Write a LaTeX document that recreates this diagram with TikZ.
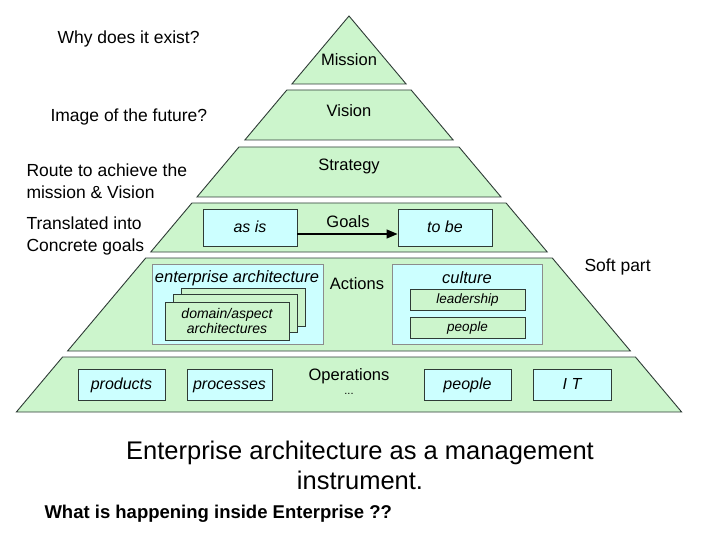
\documentclass[tikz,border=0pt]{standalone}
\usepackage{fontspec}
\setmainfont{Liberation Sans}
\usetikzlibrary{arrows.meta, positioning}
\definecolor{LayerGreen}{HTML}{CCF5CC}
\definecolor{BoxCyan}{HTML}{CCFFFF}
\definecolor{EdgeDark}{HTML}{2E3B36}

\begin{document}
\begin{tikzpicture}[
        x=1pt, y=-1pt, >={Triangle[length=11pt, width=9pt]},
        layer/.style={fill=LayerGreen, draw=EdgeDark, line width=0.9pt},
        lbl/.style={font=\fontsize{16.5}{19}\selectfont},
        note/.style={align=left, anchor=west, font=\fontsize{17.5}{22}\selectfont},
        box/.style={draw=EdgeDark, fill=BoxCyan, line width=0.9pt, inner sep=0pt,
                    text height=12.5pt, text depth=2.5pt,
                    font=\fontsize{16}{19}\selectfont\itshape},
        panel/.style={draw=black!45, fill=BoxCyan, line width=0.8pt, inner sep=0pt},
        sheet/.style={draw=EdgeDark, fill=LayerGreen, line width=0.9pt, inner sep=0pt,
                      minimum width=124, minimum height=38},
        small/.style={draw=EdgeDark, fill=LayerGreen, line width=0.8pt, inner sep=0pt,
                      minimum width=115, minimum height=21, text height=10.5pt, text depth=2pt,
                      font=\fontsize{13.5}{15}\selectfont\itshape},
      ]
        \useasboundingbox (0,0) rectangle (720,540);
        % pyramid: apex (349,16), half width grows 0.84 per unit down
        \def\cx{349}\def\sl{0.84}
        \fill[LayerGreen] (\cx,16) -- ({\cx+\sl*68},84) -- ({\cx-\sl*68},84) -- cycle;
        \draw[EdgeDark, line width=0.9pt] (\cx,16) -- ({\cx+\sl*68},84) -- ({\cx-\sl*68},84) -- cycle;
        \foreach \t/\b in {90/140, 147/197, 203/252, 258/351, 357/412}
          \draw[layer] ({\cx-\sl*(\t-16)},\t) -- ({\cx+\sl*(\t-16)},\t)
                -- ({\cx+\sl*(\b-16)},\b) -- ({\cx-\sl*(\b-16)},\b) -- cycle;
        % layer names
        \node[lbl] (mission) at (349,60) {Mission};
        \node[lbl] (vision) at (349,111) {Vision};
        \node[lbl] (strategy) at (349,166) {Strategy};
        \node[lbl] (goals) at (348,222) {Goals};
        \node[lbl] (actions) at (357,284) {Actions};
        \node[lbl] (operations) at (349,376) {Operations};
        \node[font=\fontsize{11}{12}\selectfont] (dots) at (349,394) {...};
        % goals
        \node[box, minimum width=94, minimum height=37] (asis) at (250,227.5) {as is};
        \node[box, minimum width=94, minimum height=37] (tobe) at (445,227.5) {to be};
        \draw[->, line width=1.3pt] (asis.east |- 0,234) -- (tobe.west |- 0,234);
        % actions: enterprise architecture
        \node[panel, minimum width=171, minimum height=80] (ea) at (237.5,304) {};
        \node[lbl, font=\fontsize{16.5}{19}\selectfont\itshape] (eatext) at (237,278) {enterprise architecture};
        \node[sheet] (sheetc) at (243,307) {};
        \node[sheet] (sheetb) at (235,313) {};
        \node[sheet, align=center, font=\fontsize{14}{15}\selectfont\itshape] (sheeta) at (227,321) {domain/aspect\\architectures};
        % actions: culture
        \node[panel, minimum width=150, minimum height=80] (culture) at (467,304) {};
        \node[lbl, font=\fontsize{16.5}{19}\selectfont\itshape] (culturetext) at (467,278) {culture};
        \node[small] (leadership) at (467.5,299.5) {leadership};
        \node[small] (people1) at (467.5,327.5) {people};
        % operations
        \node[box, minimum width=87, minimum height=31] (products) at (121.5,384.5) {products};
        \node[box, minimum width=85, minimum height=31] (processes) at (229.5,384.5) {processes};
        \node[box, minimum width=87, minimum height=31] (people2) at (467.5,384.5) {people};
        \node[box, minimum width=78, minimum height=31] (it) at (572,384.5) {I T};
        % notes
        \node[note] (why) at (54,39) {Why does it exist?};
        \node[note] (image) at (47,117) {Image of the future?};
        \node[note] (route) at (23,181) {Route to achieve the\\mission \& Vision};
        \node[note] (translated) at (23,236) {Translated into\\Concrete goals};
        \node[note] (soft) at (581,267) {Soft part};
        \node[align=center, font=\fontsize{25.5}{30}\selectfont] (title) at (360,465)
          {Enterprise architecture as a management\\instrument.};
        \node[anchor=west, font=\fontsize{18.5}{20}\selectfont\bfseries] (question) at (41,514)
          {What is happening inside Enterprise ??};
      \end{tikzpicture}
\end{document}
